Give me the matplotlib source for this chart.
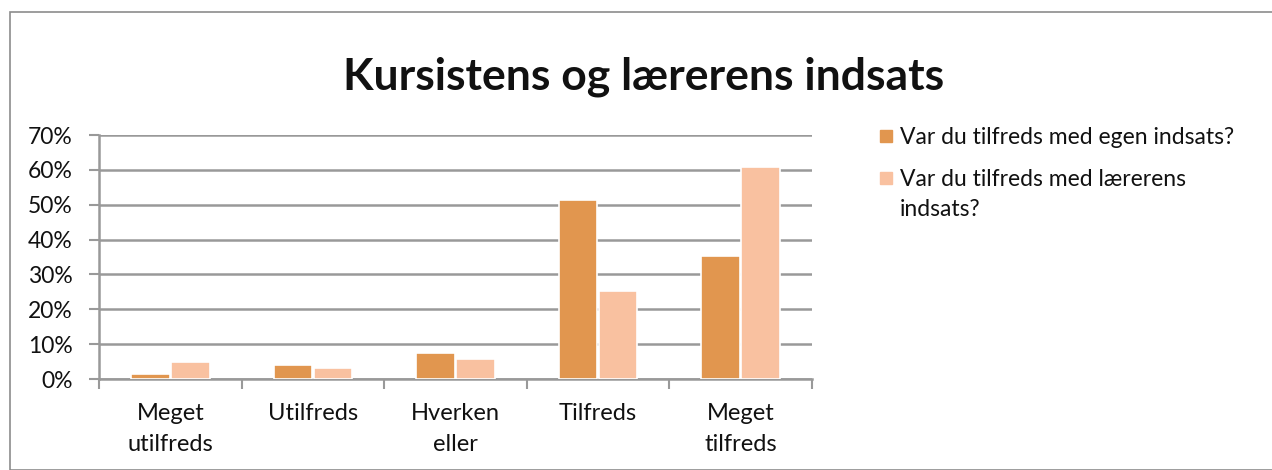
import matplotlib.pyplot as plt
import numpy as np
from matplotlib.patches import Rectangle
from matplotlib.ticker import PercentFormatter

plt.rcParams['font.family'] = ['Lato', 'DejaVu Sans']

# Categories and survey shares (%)
categories = ['Meget\nutilfreds', 'Utilfreds', 'Hverken\neller', 'Tilfreds', 'Meget\ntilfreds']
egen = [1.5, 4.1, 7.4, 51.3, 35.3]
laerer = [4.8, 3.2, 5.7, 25.2, 60.8]
labels = ['Var du tilfreds med egen indsats?', 'Var du tilfreds med lærerens\nindsats?']
colors = ['#E1964F', '#F9C1A0']

fig = plt.figure(figsize=(12.72, 4.70), dpi=100)
ax = fig.add_axes([99 / 1272, 1 - 379 / 470, (812 - 99) / 1272, (379 - 135) / 470])

# outer chart border
fig.patches.append(Rectangle((10 / 1272, 0), 1.0, 1 - 12 / 470, transform=fig.transFigure,
                             fill=False, edgecolor='#8c8c8c', linewidth=1.2))

pos = np.arange(len(categories))
width = 0.27
ax.bar(pos - width / 2 - 0.005, egen, width=width, color=colors[0], edgecolor='white',
       linewidth=1.2, zorder=3)
ax.bar(pos + width / 2 + 0.005, laerer, width=width, color=colors[1], edgecolor='white',
       linewidth=1.2, zorder=3)

ax.set_xlim(-0.5, len(categories) - 0.5)
ax.set_ylim(0, 70)
ax.set_yticks(np.arange(0, 71, 10))
ax.yaxis.set_major_formatter(PercentFormatter(decimals=0))
ax.yaxis.grid(True, color='#999999', linewidth=1.8, zorder=0)
ax.set_axisbelow(True)

ax.set_xticks(pos)
ax.set_xticklabels(categories, fontsize=17, color='#111111', linespacing=1.6)
ax.set_xticks(np.arange(-0.5, len(categories), 1), minor=True)
ax.tick_params(axis='x', which='major', length=0, pad=17)
ax.tick_params(axis='x', which='minor', length=7, color='#999999', width=1.5)
ax.tick_params(axis='y', length=7, color='#999999', width=1.5, labelsize=16.5,
               labelcolor='#111111', pad=12)

for s in ['top', 'right']:
    ax.spines[s].set_visible(False)
for s in ['left', 'bottom']:
    ax.spines[s].set_color('#999999')
    ax.spines[s].set_linewidth(1.8)

fig.text(644 / 1272, 1 - 77 / 470, 'Kursistens og lærerens indsats', ha='center', va='center',
         fontsize=32, fontweight='bold', color='#111111')

# legend, with the square aligned to the first text line
for i, (lab, col) in enumerate(zip(labels, colors)):
    yc = 136 + 42 * i
    fig.patches.append(Rectangle((880 / 1272, 1 - (yc + 6) / 470), 12 / 1272, 12 / 470,
                                 transform=fig.transFigure, color=col))
    fig.text(900 / 1272, 1 - (yc - 9) / 470, lab, ha='left', va='top', fontsize=16.5,
             color='#111111', linespacing=1.55)

fig.savefig('out.png', dpi=100)
